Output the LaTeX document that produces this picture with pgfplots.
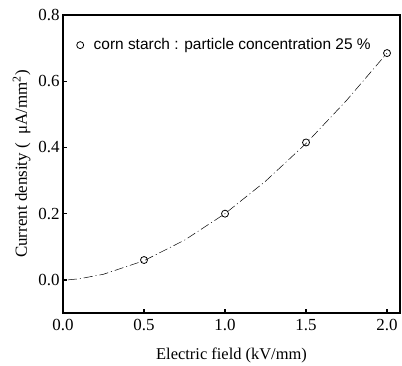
\documentclass[border=0pt]{standalone}
\usepackage{pgfplots}
\pgfplotsset{compat=1.18}
\usepackage{fontspec}
\setmainfont{Liberation Serif}
\newfontfamily\arial{Liberation Sans}
\begin{document}
\begin{tikzpicture}
\path[use as bounding box] (-63bp,-53bp) rectangle (339bp,313bp);
\begin{axis}[
  scale only axis,
  width=337bp, height=298bp,
  xmin=0, xmax=2.08, ymin=-0.1, ymax=0.8,
  xtick={0,0.5,1,1.5,2}, ytick={0,0.2,0.4,0.6,0.8},
  tick pos=left, tick align=inside,
  major tick length=4bp,
  axis line style={line width=1.3bp},
  every tick/.style={line width=1.3bp, black},
  /pgf/number format/assume math mode=true,
  /pgf/number format/.cd, fixed, fixed zerofill, precision=1, /pgfplots/.cd,
  ticklabel style={font=\fontsize{17}{19}\selectfont},
  xticklabel style={yshift=-3bp},
  xlabel={Electric field (kV/mm)},
  ylabel={Current density (\ \ μA/mm\textsuperscript{2})},
  xlabel style={font=\fontsize{16.5}{18}\selectfont, yshift=-10bp},
  ylabel style={font=\fontsize{17}{19}\selectfont, yshift=1bp},
  legend style={at={(axis cs:0.065,0.709)}, anchor=west, draw=none, fill=none,
    font=\arial\fontsize{15.5}{17}\selectfont, legend cell align=left},
]
\addplot[black, line width=0.5bp, dash pattern=on 9bp off 3bp on 1bp off 3bp, forget plot]
  coordinates {(0.03,0) (0.1,0.0033) (0.25,0.017) (0.5,0.058) (0.75,0.120) (1.0,0.2) (1.25,0.298) (1.5,0.412) (1.75,0.542) (2.0,0.685)};
\addplot[only marks, mark=o, mark size=3.5bp, black, mark options={line width=0.8bp}]
  coordinates {(0.5,0.06) (1.0,0.2) (1.5,0.415) (2.0,0.685)};
\addlegendentry{\hspace{8bp}corn starch : particle concentration 25 \%}
\end{axis}
\end{tikzpicture}
\end{document}
